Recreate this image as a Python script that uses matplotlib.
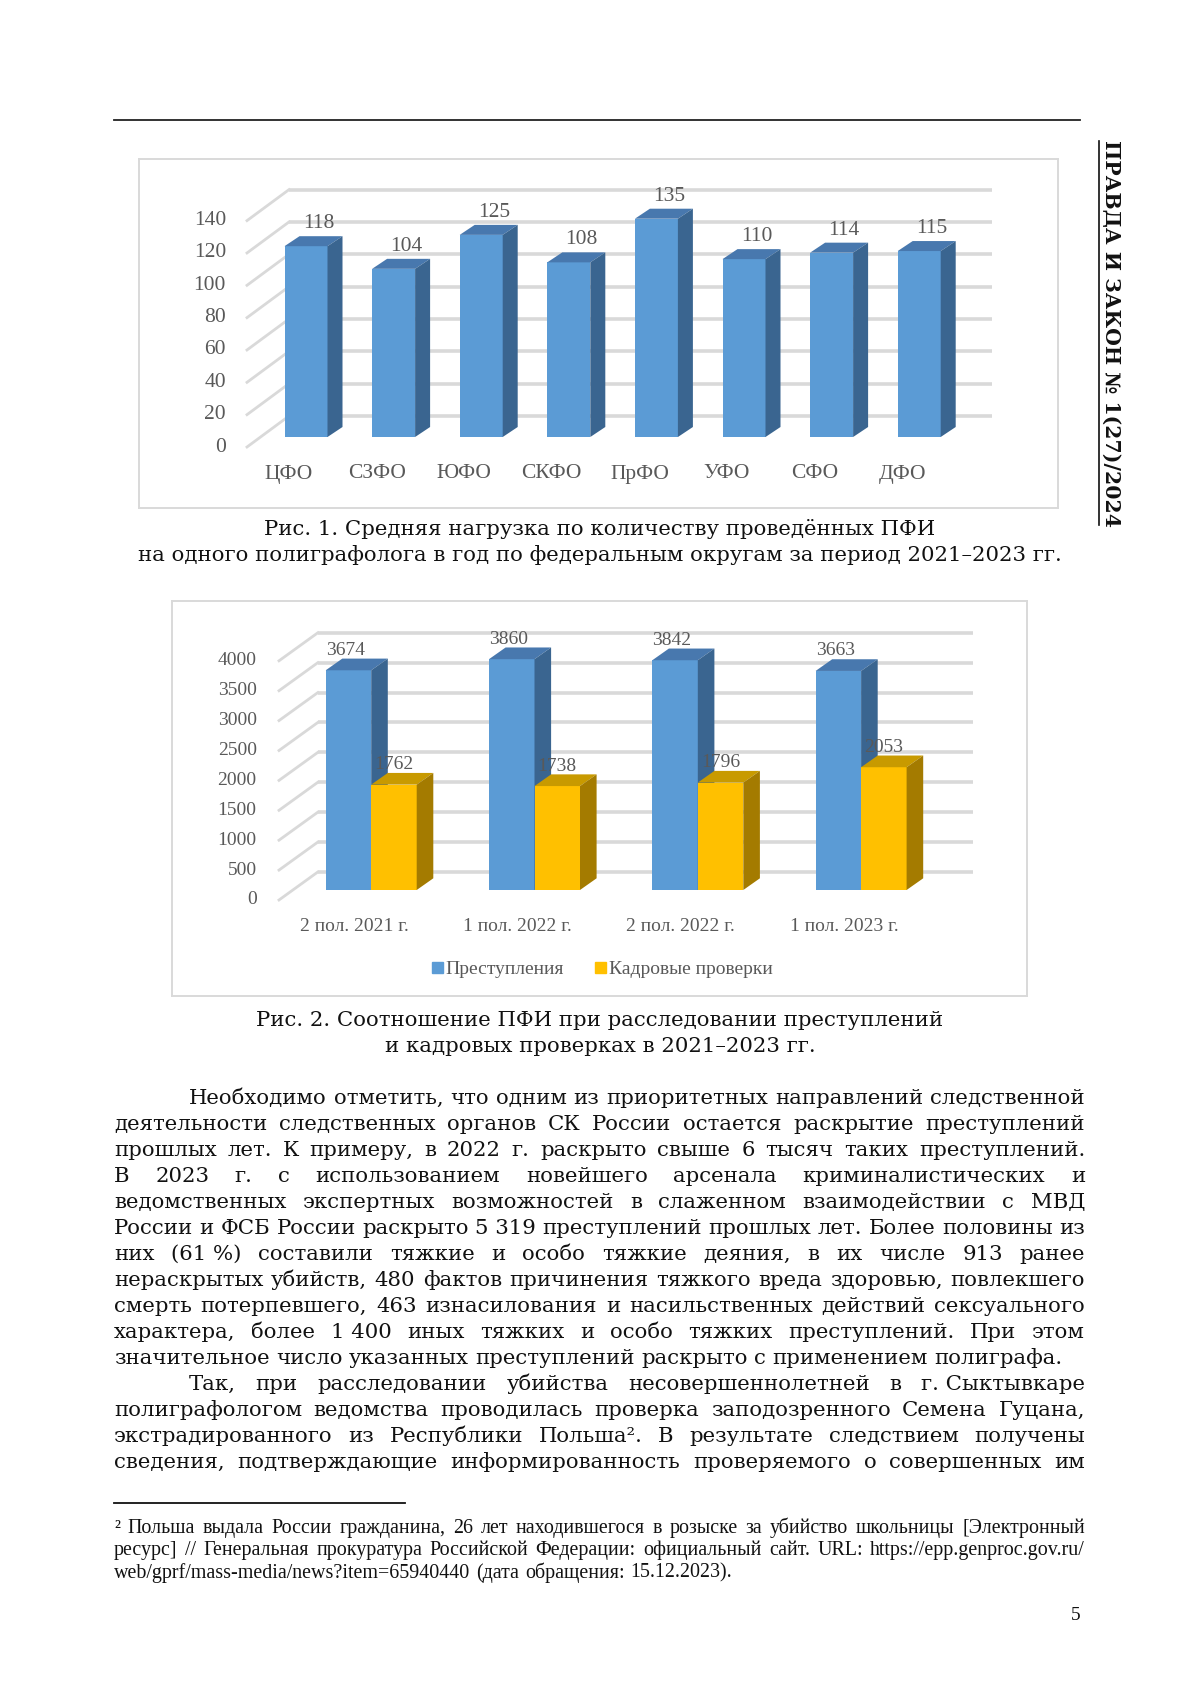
import numpy as np
import matplotlib
matplotlib.use('Agg')
import matplotlib.pyplot as plt
from matplotlib.patches import Polygon, Patch

W, H = 1200, 1698

# --- data ---
districts = ['ЦФО', 'СЗФО', 'ЮФО', 'СКФО', 'ПрФО', 'УФО', 'СФО', 'ДФО']
load_per_expert = [118, 104, 125, 108, 135, 110, 114, 115]
ticks1 = [0, 20, 40, 60, 80, 100, 120, 140]

periods = ['2 пол. 2021 г.', '1 пол. 2022 г.', '2 пол. 2022 г.', '1 пол. 2023 г.']
crimes = [3674, 3860, 3842, 3663]
hr_checks = [1762, 1738, 1796, 2053]
ticks2 = [0, 500, 1000, 1500, 2000, 2500, 3000, 3500, 4000]
series2 = ['Преступления', 'Кадровые проверки']

caption1 = ['Рис. 1. Средняя нагрузка по количеству проведённых ПФИ',
            'на одного полиграфолога в год по федеральным округам за период 2021–2023 гг.']
caption2 = ['Рис. 2. Соотношение ПФИ при расследовании преступлений',
            'и кадровых проверках в 2021–2023 гг.']

body = [
    ('Необходимо отметить, что одним из приоритетных направлений следственной', True, True),
    ('деятельности следственных органов СК России остается раскрытие преступлений', False, True),
    ('прошлых лет. К примеру, в 2022 г. раскрыто свыше 6 тысяч таких преступлений.', False, True),
    ('В 2023 г. с использованием новейшего арсенала криминалистических и', False, True),
    ('ведомственных экспертных возможностей в слаженном взаимодействии с МВД', False, True),
    ('России и ФСБ России раскрыто 5\u00a0319 преступлений прошлых лет. Более половины из', False, True),
    ('них (61\u00a0%) составили тяжкие и особо тяжкие деяния, в их числе 913 ранее', False, True),
    ('нераскрытых убийств, 480 фактов причинения тяжкого вреда здоровью, повлекшего', False, True),
    ('смерть потерпевшего, 463 изнасилования и насильственных действий сексуального', False, True),
    ('характера, более 1\u00a0400 иных тяжких и особо тяжких преступлений. При этом', False, True),
    ('значительное число указанных преступлений раскрыто с применением полиграфа.', False, False),
    ('Так, при расследовании убийства несовершеннолетней в г.\u00a0Сыктывкаре', True, True),
    ('полиграфологом ведомства проводилась проверка заподозренного Семена Гуцана,', False, True),
    ('экстрадированного из Республики Польша². В результате следствием получены', False, True),
    ('сведения, подтверждающие информированность проверяемого о совершенных им', False, True),
]

footnote = [
    ('² Польша выдала России гражданина, 26 лет находившегося в розыске за убийство школьницы [Электронный', True),
    ('ресурс] // Генеральная прокуратура Российской Федерации: официальный сайт. URL: https://epp.genproc.gov.ru/', True),
    ('web/gprf/mass-media/news?item=65940440 (дата обращения: 15.12.2023).', False),
]

journal = 'ПРАВДА И ЗАКОН № 1(27)/2024'

BLUE = ('#5b9bd5', '#4878ae', '#3a6590')   # front, top, side
GOLD = ('#ffc000', '#c89a00', '#a47b00')
GRID = '#d9d9d9'
LABEL = '#595959'
SERIF = 'Liberation Serif'
BOOK = 'DejaVu Serif'

fig = plt.figure(figsize=(12, 16.98), dpi=100)
page = fig.add_axes([0, 0, 1, 1])
page.set_xlim(0, W)
page.set_ylim(H, 0)
page.axis('off')
renderer = fig.canvas.get_renderer()


def chart_axes(left, top, right, bottom, x0px, xunit, y0px, yunit):
    ax = fig.add_axes([left / W, 1 - bottom / H, (right - left) / W, (bottom - top) / H])
    ax.set_xlim((left - x0px) / xunit, (right - x0px) / xunit)
    ax.set_ylim((y0px - bottom) / yunit, (y0px - top) / yunit)
    ax.set_xticks([])
    ax.set_yticks([])
    for s in ax.spines.values():
        s.set_color(GRID)
        s.set_linewidth(1.4)
    return ax


def bar3d(ax, x, h, w, dx, dy, cols, z):
    front, top, side = cols
    ax.bar(x, h, width=w, color=front, linewidth=0, zorder=z)
    l, r = x - w / 2, x + w / 2
    ax.add_patch(Polygon([(l, h), (r, h), (r + dx, h + dy), (l + dx, h + dy)],
                         closed=True, fc=top, ec='none', zorder=z))
    ax.add_patch(Polygon([(r, 0), (r + dx, dy), (r + dx, h + dy), (r, h)],
                         closed=True, fc=side, ec='none', zorder=z))


def walls(ax, ticks, fx, fy, bx, by, ex, lx, size):
    for t in ticks:
        ax.plot([bx, ex], [t + by, t + by], color=GRID, lw=2.6, zorder=1, solid_capstyle='butt')
        ax.plot([fx, bx], [t + fy, t + by], color=GRID, lw=2, zorder=1)
        ax.text(lx, t + fy, str(t), ha='right', va='center', fontsize=size,
                family=SERIF, color=LABEL)


# --- chart 1 ---
x0, xu, y0, yu = 306, 87.6, 437, 1.617
ax1 = chart_axes(139, 159, 1058, 508, x0, xu, y0, yu)
walls(ax1, ticks1, (247 - x0) / xu, -10 / yu, (289 - x0) / xu, 21 / yu,
      (992 - x0) / xu, (226 - x0) / xu, 15.5)
pos1 = np.arange(len(districts))
for i, v in enumerate(load_per_expert):
    bar3d(ax1, pos1[i], v, 43 / xu, 15 / xu, 10 / yu, BLUE, 3)
    ax1.text(pos1[i] + 0.144, v + 14, str(v), ha='center', va='center',
             fontsize=15.5, family=SERIF, color=LABEL, zorder=5)
    ax1.text(pos1[i] - 17 / xu, -37 / yu, districts[i], ha='center', va='center',
             fontsize=15.5, family=SERIF, color=LABEL)

# --- chart 2 ---
x0, xu, y0, yu = 371.2, 163.3, 890, 0.0598
ax2 = chart_axes(172, 601, 1027, 996, x0, xu, y0, yu)
walls(ax2, ticks2, (279 - x0) / xu, -10 / yu, (317.8 - x0) / xu, 18 / yu,
      (973 - x0) / xu, (256.7 - x0) / xu, 14)
pos2 = np.arange(len(periods))
w2 = 45.5 / xu
for g in pos2:
    bar3d(ax2, g - w2 / 2, crimes[g], w2, 16.6 / xu, 11.7 / yu, BLUE, 3)
    bar3d(ax2, g + w2 / 2, hr_checks[g], w2, 16.6 / xu, 11.7 / yu, GOLD, 4)
    ax2.text(g - w2 / 2 - 3 / xu, crimes[g] + 335, str(crimes[g]), ha='center', va='center',
             fontsize=14, family=SERIF, color=LABEL, zorder=6)
    ax2.text(g + w2 / 2, hr_checks[g] + 335, str(hr_checks[g]), ha='center', va='center',
             fontsize=14, family=SERIF, color=LABEL, zorder=6)
    ax2.text(g - 17 / xu, -36.7 / yu, periods[g], ha='center', va='center',
             fontsize=14, family=SERIF, color=LABEL)
ax2.legend(handles=[Patch(color=BLUE[0]), Patch(color=GOLD[0])], labels=series2,
           loc='center', bbox_to_anchor=(0.503, 0.066), ncol=2, frameon=False,
           handlelength=0.55, handleheight=0.55, handletextpad=0.15, columnspacing=1.6,
           prop={'family': SERIF, 'size': 14}, labelcolor=LABEL)


# --- page text ---
def text_line(s, x0, x1, y, size, family, justify):
    words = s.split(' ')
    items = [page.text(0, y, wd, fontsize=size, family=family, va='baseline', color='#111111')
             for wd in words]
    widths = [t.get_window_extent(renderer).width for t in items]
    gap = size * 100 / 72 * 0.3
    if justify and len(words) > 1:
        gap = (x1 - x0 - sum(widths)) / (len(words) - 1)
    x = x0
    for t, wd in zip(items, widths):
        t.set_x(x)
        x += wd + gap


page.plot([114, 1080], [120, 120], color='#222222', lw=1.3)
page.text(1111, 333, journal, rotation=-90, ha='center', va='center', fontsize=14.7,
          fontweight='bold', family=BOOK, color='#111111')
page.plot([1099, 1099], [141, 525], color='#111111', lw=1.2)

for k, line in enumerate(caption1):
    page.text(600, 535 + 26 * k, line, ha='center', va='baseline', fontsize=15.3,
              family=BOOK, color='#111111')
for k, line in enumerate(caption2):
    page.text(600, 1026 + 26 * k, line, ha='center', va='baseline', fontsize=15.3,
              family=BOOK, color='#111111')

for k, (line, indent, just) in enumerate(body):
    text_line(line, 189 if indent else 114, 1085, 1104 + 26.0 * k, 15.3, BOOK, just)

page.plot([114, 405], [1503, 1503], color='#111111', lw=1.3)
for k, (line, just) in enumerate(footnote):
    text_line(line, 114, 1085, 1533 + 22.3 * k, 14.4, SERIF, just)
page.text(1080, 1616, '5', ha='right', va='center', fontsize=14, family=SERIF, color='#111111')

fig.savefig('out.png', dpi=100)
